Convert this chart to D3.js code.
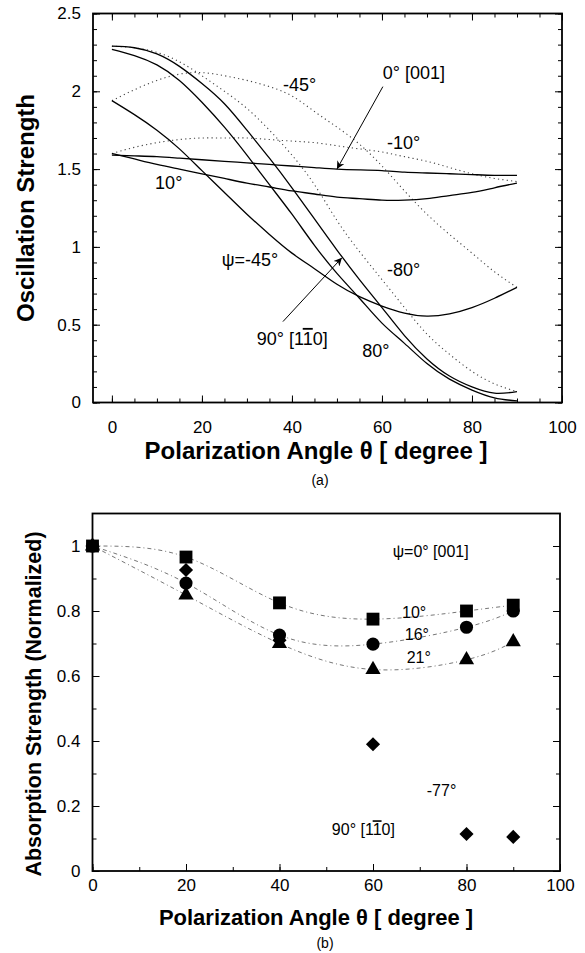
<!DOCTYPE html>
<html>
<head>
<meta charset="utf-8">
<script src="https://cdn.jsdelivr.net/npm/d3@7"></script>
<style>
  body { margin: 0; background: #fff; }
  text { font-family: "Liberation Sans", Arial, sans-serif; fill: #000; }
  .title { font-weight: bold; }
</style>
</head>
<body>
<svg id="chart" width="585" height="953"></svg>
<script>

// ---- panel (a): oscillation strength vs polarization angle ----
var theta = [0, 5, 10, 15, 20, 25, 30, 35, 40, 45, 50, 55, 60, 65, 70, 75, 80, 85, 90]

var osc_0 = [1.59, 1.585, 1.58, 1.57, 1.56, 1.55, 1.54, 1.53, 1.52, 1.51, 1.50, 1.495, 1.49, 1.48, 1.475, 1.47, 1.465, 1.46, 1.46]
var osc_10 = [1.60, 1.565, 1.53, 1.50, 1.47, 1.44, 1.41, 1.385, 1.36, 1.34, 1.32, 1.31, 1.30, 1.30, 1.31, 1.33, 1.35, 1.38, 1.41]
var osc_m45 = [1.94, 1.85, 1.75, 1.63, 1.49, 1.35, 1.21, 1.08, 0.96, 0.86, 0.76, 0.68, 0.62, 0.575, 0.555, 0.57, 0.61, 0.67, 0.74]
var osc_90 = [2.29, 2.28, 2.24, 2.16, 2.05, 1.92, 1.75, 1.57, 1.38, 1.18, 0.98, 0.79, 0.61, 0.43, 0.28, 0.17, 0.10, 0.06, 0.07]
var osc_80 = [2.27, 2.23, 2.17, 2.07, 1.93, 1.77, 1.59, 1.40, 1.21, 1.01, 0.83, 0.67, 0.51, 0.38, 0.25, 0.15, 0.08, 0.03, 0.01]
// dotted curves
var osc_m80 = [2.29, 2.28, 2.25, 2.19, 2.10, 2.00, 1.89, 1.75, 1.59, 1.40, 1.17, 0.97, 0.79, 0.61, 0.44, 0.31, 0.20, 0.12, 0.07]
var osc_m45d = [1.94, 2.01, 2.07, 2.11, 2.12, 2.10, 2.07, 2.03, 1.97, 1.87, 1.77, 1.66, 1.52, 1.36, 1.21, 1.08, 0.96, 0.84, 0.74]
var osc_m10 = [1.60, 1.64, 1.67, 1.69, 1.70, 1.70, 1.70, 1.69, 1.68, 1.67, 1.65, 1.63, 1.61, 1.58, 1.55, 1.51, 1.47, 1.44, 1.42]

var xTicksA = [0, 20, 40, 60, 80, 100]
var yTicksA = [0, 0.5, 1, 1.5, 2, 2.5]

// ---- panel (b): measured absorption strength ----
var thetaB = [0, 20, 40, 60, 80, 90]
var abs_10 = [1.0, 0.966, 0.825, 0.775, 0.80, 0.818]
var abs_16 = [1.0, 0.886, 0.726, 0.698, 0.75, 0.80]
var abs_21 = [1.0, 0.849, 0.70, 0.62, 0.65, 0.705]
var abs_m77 = [1.0, 0.926, 0.71, 0.39, 0.114, 0.105]

var xTicksB = [0, 20, 40, 60, 80, 100]
var yTicksB = [0, 0.2, 0.4, 0.6, 0.8, 1]

var svg = d3.select("#chart")

function zip(xs, ys) { return xs.map(function(x, i) { return [x, ys[i]] }) }

// draws box with inward ticks on all four sides
function frame(g, x, y, opt) {
  var W = x.range()[1] - x.range()[0], H = y.range()[0] - y.range()[1]
  var x0 = x.range()[0], y0 = y.range()[1]

  g.append("g").attr("transform", "translate(0," + y.range()[0] + ")")
    .call(d3.axisBottom(x).tickValues(opt.xMinor).tickSize(-4).tickFormat(""))
  g.append("g").attr("transform", "translate(0," + y.range()[0] + ")")
    .attr("class", "xlab")
    .call(d3.axisBottom(x).tickValues(opt.xMajor).tickSize(-7).tickPadding(opt.xPad))
  if (opt.topTicks) {
    g.append("g").attr("transform", "translate(0," + y0 + ")")
      .call(d3.axisTop(x).tickValues(opt.xMinor).tickSize(-4).tickFormat(""))
    g.append("g").attr("transform", "translate(0," + y0 + ")")
      .call(d3.axisTop(x).tickValues(opt.xMajor).tickSize(-7).tickFormat(""))
  }
  g.append("g").attr("transform", "translate(" + x0 + ",0)")
    .call(d3.axisLeft(y).tickValues(opt.yMinor).tickSize(-4).tickFormat(""))
  g.append("g").attr("transform", "translate(" + x0 + ",0)")
    .call(d3.axisLeft(y).tickValues(opt.yMajor).tickSize(-7).tickPadding(opt.yPad).tickFormat(opt.yFmt))
  g.append("g").attr("transform", "translate(" + x.range()[1] + ",0)")
    .call(d3.axisRight(y).tickValues(opt.yMinor).tickSize(-4).tickFormat(""))
  g.append("g").attr("transform", "translate(" + x.range()[1] + ",0)")
    .call(d3.axisRight(y).tickValues(opt.yMajor).tickSize(-7).tickFormat(""))

  g.selectAll(".domain").remove()
  g.selectAll(".tick line").attr("stroke", "#000").attr("stroke-width", 1)
  g.selectAll(".tick text").style("font-size", "17px").attr("fill", "#000")
  g.append("rect").attr("x", x0).attr("y", y0).attr("width", W).attr("height", H)
    .attr("fill", "none").attr("stroke", "#000").attr("stroke-width", 1.8)
}

function label(g, x, y, tx, ty, str, size) {
  var t = g.append("text").attr("x", x(tx)).attr("y", y(ty)).style("font-size", size + "px")
  str.forEach(function(s) {
    var ts = t.append("tspan").text(s.t)
    if (s.over) ts.style("text-decoration", "overline")
  })
  return t
}

function arrow(g, x, y, from, to) {
  g.append("line")
    .attr("x1", x(from[0])).attr("y1", y(from[1]))
    .attr("x2", x(to[0])).attr("y2", y(to[1]))
    .attr("stroke", "#000").attr("stroke-width", 1)
    .attr("marker-end", "url(#head)")
}

svg.append("defs").append("marker")
    .attr("id", "head").attr("viewBox", "0 0 10 10")
    .attr("refX", 10).attr("refY", 5)
    .attr("markerWidth", 10).attr("markerHeight", 8)
    .attr("markerUnits", "userSpaceOnUse")
    .attr("orient", "auto")
  .append("path").attr("d", "M0,0 L10,5 L0,10 L3,5 z").attr("fill", "#000")

// ================= panel (a) =================
var xA = d3.scaleLinear().domain([-4.2, 100]).range([93, 562])
var yA = d3.scaleLinear().domain([0, 2.5]).range([402.5, 13.5])
var gA = svg.append("g")

var lineA = d3.line().x(function(d) { return xA(d[0]) }).y(function(d) { return yA(d[1]) })
  .curve(d3.curveNatural)

var dottedA = [osc_m80, osc_m45d, osc_m10]
var solidA = [osc_0, osc_10, osc_m45, osc_90, osc_80]

gA.selectAll(".dot-a").data(dottedA).enter().append("path")
    .attr("class", "dot-a")
    .attr("d", function(d) { return lineA(zip(theta, d)) })
    .attr("fill", "none").attr("stroke", "#444").attr("stroke-width", 1.1)
    .attr("stroke-dasharray", "1.2,3.2")

gA.selectAll(".solid-a").data(solidA).enter().append("path")
    .attr("class", "solid-a")
    .attr("d", function(d) { return lineA(zip(theta, d)) })
    .attr("fill", "none").attr("stroke", "#000").attr("stroke-width", 1.3)

frame(gA, xA, yA, {
  xMajor: xTicksA, xMinor: d3.range(0, 101, 5), xPad: 18, topTicks: true,
  yMajor: yTicksA, yMinor: d3.range(0, 26).map(function(i) { return i / 10 }), yPad: 12,
  yFmt: function(d) { return d }
})

label(gA, xA, yA, 60.2, 2.08, [{t: "0° [001]"}], 18)
arrow(gA, xA, yA, [60.2, 2.03], [50, 1.50])
label(gA, xA, yA, 38, 2.0, [{t: "-45°"}], 18)
label(gA, xA, yA, 61.1, 1.63, [{t: "-10°"}], 18)
label(gA, xA, yA, 9.6, 1.37, [{t: "10°"}], 18)
label(gA, xA, yA, 24.4, 0.88, [{t: "ψ=-45°"}], 18)
label(gA, xA, yA, 32.2, 0.37, [{t: "90° [1"}, {t: "1", over: true}, {t: "0]"}], 18)
arrow(gA, xA, yA, [38, 0.52], [51.1, 0.93])
label(gA, xA, yA, 61.1, 0.81, [{t: "-80°"}], 18)
label(gA, xA, yA, 55.6, 0.29, [{t: "80°"}], 18)

gA.append("text").attr("class", "title")
    .attr("transform", "translate(34,208) rotate(-90)")
    .attr("text-anchor", "middle").style("font-size", "24px")
    .text("Oscillation Strength")
gA.append("text").attr("class", "title")
    .attr("x", 316).attr("y", 459).attr("text-anchor", "middle").style("font-size", "24px")
    .text("Polarization Angle θ [ degree ]")
gA.append("text").attr("x", 320).attr("y", 485).attr("text-anchor", "middle")
    .style("font-size", "14px").text("(a)")

// ================= panel (b) =================
var xB = d3.scaleLinear().domain([0, 100]).range([92.5, 560])
var yB = d3.scaleLinear().domain([0, 1.1]).range([871, 513.5])
var gB = svg.append("g")

var lineB = d3.line().x(function(d) { return xB(d[0]) }).y(function(d) { return yB(d[1]) })
  .curve(d3.curveNatural)

var fits = [abs_10, abs_16, abs_21]
gB.selectAll(".fit").data(fits).enter().append("path")
    .attr("class", "fit")
    .attr("d", function(d) { return lineB(zip(thetaB, d)) })
    .attr("fill", "none").attr("stroke", "#666").attr("stroke-width", 0.9)
    .attr("stroke-dasharray", "4,3,1,3")

frame(gB, xB, yB, {
  xMajor: xTicksB, xMinor: d3.range(0, 101, 10), xPad: 8, topTicks: false,
  yMajor: yTicksB, yMinor: d3.range(0, 11).map(function(i) { return i / 10 }), yPad: 12,
  yFmt: function(d) { return d }
})

var series = [
  {vals: abs_21, sym: d3.symbolTriangle, size: 100, rot: 0},
  {vals: abs_m77, sym: d3.symbolSquare, size: 100, rot: 45},
  {vals: abs_16, sym: d3.symbolCircle, size: 135, rot: 0},
  {vals: abs_10, sym: d3.symbolSquare, size: 165, rot: 0}
]
series.forEach(function(s) {
  gB.selectAll(null).data(zip(thetaB, s.vals)).enter().append("path")
      .attr("d", d3.symbol().type(s.sym).size(s.size))
      .attr("transform", function(d) {
        return "translate(" + xB(d[0]) + "," + yB(d[1]) + ") rotate(" + s.rot + ")"
      })
      .attr("fill", "#000")
})

label(gB, xB, yB, 64.2, 0.966, [{t: "ψ=0° [001]"}], 16)
label(gB, xB, yB, 66.2, 0.78, [{t: "10°"}], 16)
label(gB, xB, yB, 66.8, 0.71, [{t: "16°"}], 16)
label(gB, xB, yB, 67.2, 0.64, [{t: "21°"}], 16)
label(gB, xB, yB, 71.5, 0.23, [{t: "-77°"}], 16)
label(gB, xB, yB, 51.2, 0.11, [{t: "90° [1"}, {t: "1", over: true}, {t: "0]"}], 16)

gB.append("text").attr("class", "title")
    .attr("transform", "translate(41,704) rotate(-90)")
    .attr("text-anchor", "middle").style("font-size", "21.5px")
    .text("Absorption Strength (Normalized)")
gB.append("text").attr("class", "title")
    .attr("x", 316).attr("y", 925).attr("text-anchor", "middle").style("font-size", "22px")
    .text("Polarization Angle θ [ degree ]")
gB.append("text").attr("x", 325).attr("y", 948).attr("text-anchor", "middle")
    .style("font-size", "14px").text("(b)")

</script>
</body>
</html>
